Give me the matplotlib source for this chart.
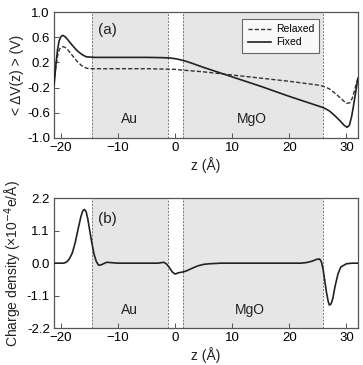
import matplotlib
matplotlib.use("Agg")
import matplotlib.pyplot as plt

plt.rcParams['font.family'] = ['Liberation Sans', 'DejaVu Sans']

# ---- data ----
z_fixed = [-21.2, -20.9, -20.6, -20.3, -20.0, -19.7, -19.3, -18.8, -18.0, -17.2, -16.4, -15.6,
           -15.0, -14.0, -10.0, -5.0, -2.0, -1.0, 0.0, 1.0, 2.0, 3.0, 5.0, 10.0, 15.0, 20.0,
           25.0, 26.0, 27.0, 28.0, 29.0, 29.6, 30.1, 30.5, 30.9, 31.3, 31.7, 32.0]
v_fixed = [-0.15, 0.15, 0.40, 0.55, 0.61, 0.63, 0.61, 0.56, 0.47, 0.39, 0.33, 0.29,
           0.285, 0.28, 0.28, 0.28, 0.275, 0.27, 0.26, 0.24, 0.215, 0.185, 0.12, -0.03, -0.18, -0.34,
           -0.49, -0.52, -0.57, -0.65, -0.74, -0.80, -0.83, -0.80, -0.66, -0.45, -0.22, -0.05]

z_relaxed = [-21.2, -20.9, -20.6, -20.3, -20.0, -19.7, -19.3, -18.8, -18.0, -17.2, -16.4, -15.6,
             -15.0, -10.0, -5.0, 0.0, 1.0, 5.0, 10.0, 15.0, 20.0, 25.0, 26.0, 27.0, 28.0,
             29.0, 29.6, 30.1, 30.6, 31.0, 31.4, 31.7, 32.0]
v_relaxed = [-0.12, 0.12, 0.30, 0.40, 0.44, 0.45, 0.44, 0.40, 0.31, 0.22, 0.15, 0.11,
             0.10, 0.10, 0.10, 0.09, 0.08, 0.05, 0.00, -0.05, -0.10, -0.16, -0.18, -0.22, -0.29,
             -0.37, -0.42, -0.45, -0.44, -0.37, -0.25, -0.14, -0.05]

z_charge = [-21.2, -19.5, -19.0, -18.5, -18.0, -17.5, -17.0, -16.5, -16.2, -15.9, -15.6, -15.3,
            -15.0, -14.6, -14.2, -13.8, -13.4, -13.0, -12.0, -10.0, -3.0, -2.0, -1.5, -1.0,
            -0.5, 0.0, 0.5, 1.0, 1.5, 2.0, 3.0, 4.0, 5.0, 6.0, 8.0, 22.0, 23.0, 24.0, 24.8,
            25.3, 25.6, 25.9, 26.2, 26.5, 26.8, 27.0, 27.3, 27.6, 28.0, 28.5, 29.0, 30.0, 31.0, 32.0]
q_charge = [0.0, 0.0, 0.04, 0.15, 0.35, 0.7, 1.15, 1.58, 1.76, 1.82, 1.75, 1.5,
            1.15, 0.7, 0.3, 0.05, -0.07, -0.06, 0.03, 0.0, 0.0, 0.03, -0.03, -0.15,
            -0.3, -0.37, -0.33, -0.31, -0.29, -0.26, -0.17, -0.09, -0.04, -0.02, 0.0, 0.0, 0.02, 0.07, 0.13,
            0.14, 0.05, -0.2, -0.6, -1.0, -1.3, -1.42, -1.38, -1.2, -0.78, -0.37, -0.13, -0.02, 0.0, 0.0]

au_region = (-14.6, -1.2)
mgo_region = (1.3, 25.9)
region_labels = ["Au", "MgO"]

xticks = [-20, -10, 0, 10, 20, 30]
yticks_a = [-1.0, -0.6, -0.2, 0.2, 0.6, 1.0]
yticks_b = [-2.2, -1.1, 0.0, 1.1, 2.2]

fig = plt.figure(figsize=(3.63, 3.65), dpi=100)
ax1 = fig.add_axes([0.149, 0.622, 0.837, 0.345])
ax2 = fig.add_axes([0.149, 0.101, 0.837, 0.356])

spine_col = '#555555'
for ax in (ax1, ax2):
    for (a, b) in (au_region, mgo_region):
        ax.axvspan(a, b, color='#e6e6e6', lw=0, zorder=0)
        ax.axvline(a, color='#777777', ls=(0, (2, 1.5)), lw=0.7, zorder=1)
        ax.axvline(b, color='#777777', ls=(0, (2, 1.5)), lw=0.7, zorder=1)
    ax.set_xlim(-21.2, 32)
    ax.set_xticks(xticks)
    ax.tick_params(direction='in', length=3.5, width=0.7, color=spine_col, labelsize=9.5, pad=3)
    for s in ax.spines.values():
        s.set_color(spine_col)
        s.set_linewidth(0.9)
    ax.set_xlabel('z (Å)', fontsize=10, labelpad=2, color='#222222')

ax1.plot(z_relaxed, v_relaxed, color='#333333', ls=(0, (3, 1.5)), lw=1.0, label='Relaxed', zorder=3)
ax1.plot(z_fixed, v_fixed, color='#222222', ls='-', lw=1.2, label='Fixed', zorder=3)
ax1.set_ylim(-1.0, 1.0)
ax1.set_yticks(yticks_a)
ax1.set_yticklabels([f'{v:.1f}' for v in yticks_a])
ax1.set_ylabel('< ΔV(z) > (V)', fontsize=10, labelpad=2, color='#222222')
ax1.text(-11.8, 0.72, '(a)', fontsize=11, ha='center', va='center', color='#222222')
ax1.text(-8.0, -0.7, region_labels[0], fontsize=10, ha='center', va='center', color='#222222')
ax1.text(13.5, -0.7, region_labels[1], fontsize=10, ha='center', va='center', color='#222222')
leg = ax1.legend(loc='upper left', bbox_to_anchor=(0.62, 0.945), borderaxespad=0,
                 fontsize=7.5, frameon=True, fancybox=False, handlelength=2.2,
                 borderpad=0.5, labelspacing=0.3, handletextpad=0.5)
leg.get_frame().set_edgecolor('#444444')
leg.get_frame().set_linewidth(0.8)

ax2.plot(z_charge, q_charge, color='#222222', lw=1.2, zorder=3)
ax2.set_ylim(-2.2, 2.2)
ax2.set_yticks(yticks_b)
ax2.set_yticklabels([f'{v:.1f}' for v in yticks_b])
ax2.set_ylabel('Charge density (×10$^{-4}$e/Å)', fontsize=10, labelpad=2, color='#222222')
ax2.text(-11.8, 1.5, '(b)', fontsize=11, ha='center', va='center', color='#222222')
ax2.text(-8.0, -1.6, region_labels[0], fontsize=10, ha='center', va='center', color='#222222')
ax2.text(13.0, -1.6, region_labels[1], fontsize=10, ha='center', va='center', color='#222222')

fig.savefig('out.png', dpi=100)
